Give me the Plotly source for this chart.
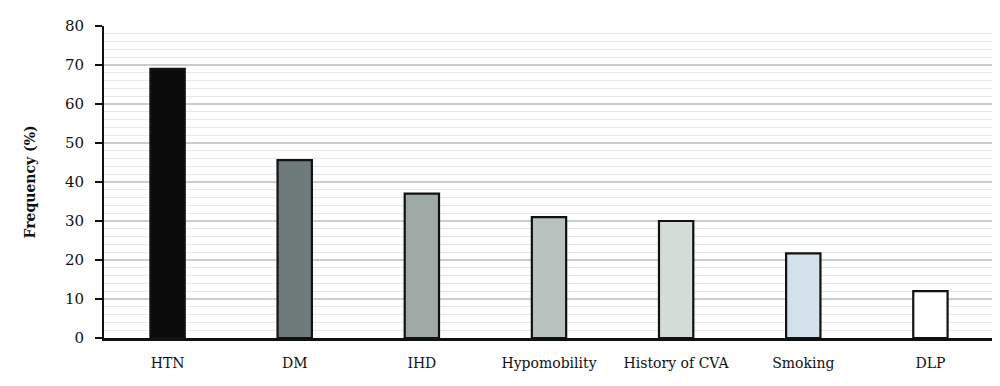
import plotly.graph_objects as go

categories = ["HTN", "DM", "IHD", "Hypomobility", "History of CVA", "Smoking", "DLP"]
values = [69, 45.6, 37, 31, 30, 21.7, 12]
colors = ["#0b0b0b", "#6f7a7a", "#9ea8a5", "#b8c2bf", "#d4ddd8", "#d3e2ea", "#ffffff"]

fig = go.Figure(go.Bar(
    x=categories, y=values,
    marker=dict(color=colors, line=dict(color="#111111", width=2.2)),
    width=0.27,
))

# page body has an 8px default margin, so compensate in figure size/margins
fig.update_layout(
    width=992, height=378,
    margin=dict(l=96, r=6, t=18, b=48),
    plot_bgcolor="white", paper_bgcolor="white",
    font=dict(family="DejaVu Serif", size=14, color="#111111"),
    showlegend=False,
)
fig.update_yaxes(
    range=[0, 80], dtick=10, tick0=0,
    showline=True, linecolor="#111111", linewidth=2,
    ticks="outside", ticklen=7, tickwidth=2, tickcolor="#111111",
    showgrid=True, gridcolor="#c6cfcb", gridwidth=1.5,
    minor=dict(dtick=2, showgrid=True, gridcolor="#e6e9e8", gridwidth=1),
    zeroline=False,
    title=dict(text="<b>Frequency (%)</b>", font=dict(size=14), standoff=26),
    tickfont=dict(size=15),
    ticklabelstandoff=8,
    automargin=False,
)
fig.update_xaxes(
    showline=True, linecolor="#111111", linewidth=2.5,
    ticks="", tickfont=dict(size=14), ticklabelstandoff=10, automargin=False,
)

fig.write_html("out.html")
